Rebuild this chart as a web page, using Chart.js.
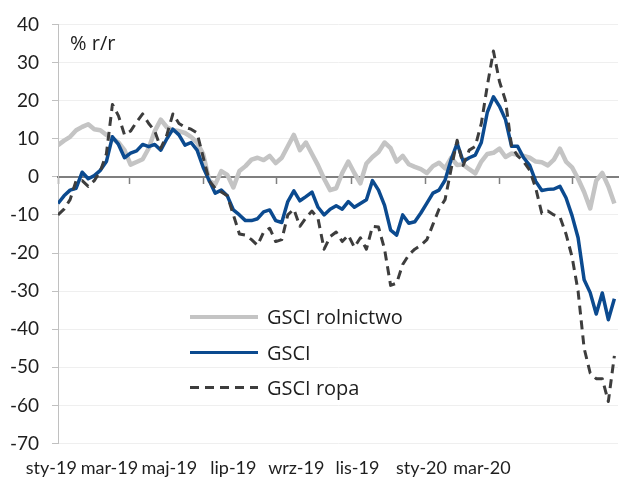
<!DOCTYPE html>
<html lang="pl">
<head>
<meta charset="utf-8">
<title>GSCI % r/r</title>
<script src="https://cdn.jsdelivr.net/npm/chart.js@4.4.1/dist/chart.umd.min.js"></script>
<style>
  body { margin: 0; background: #fff; }
  #wykres-box { position: relative; width: 621px; height: 484px; }
  #tytul { position: absolute; left: 70px; top: 29px; font: 20px 'Open Sans', sans-serif; color: #1e1e1e; }
  #legenda { position: absolute; left: 190px; top: 299px; font: 20px 'Open Sans', sans-serif; color: #1e1e1e; }
  .poz { display: flex; align-items: center; height: 35.5px; }
  .kreska { display: inline-block; width: 68px; margin-right: 9px; }
</style>
</head>
<body>
<div id="wykres-box">
  <canvas id="wykres"></canvas>
  <div id="tytul">% r/r</div>
  <div id="legenda"></div>
</div>
<script>
// odczyty co 5 dni, od 1 stycznia 2019
var krokDni = 5;

var rolnictwo = [
    8.3, 9.5, 10.5, 12.2, 13.1, 13.8, 12.5, 12.2, 11, 10,
    9, 7, 3.2, 3.9, 4.6, 7.5, 12, 15, 13, 12.2,
    12, 11.5, 10.5, 9, 6, -1, -2, 1.5, 0.5, -2.8,
    1.5, 2.8, 4.5, 5, 4.4, 5.5, 3.6, 5, 8, 11,
    7, 9, 6, 3, -0.5, -3.5, -3, 1, 4, 1,
    -1.7, 3.5, 5.2, 6.5, 9, 7.5, 4, 5.5, 3.3, 2.6,
    2, 1, 2.8, 3.7, 2.2, 5, 3.1, 3.2, 2, 0.9,
    4, 6, 6.3, 7.4, 5.2, 6.1, 5.8, 5.5, 5, 4,
    3.8, 3, 4.5, 7.4, 4, 2.5, -0.5, -4, -8.3, -1,
    1, -2.5, -7
];

var gsci = [
    -7, -5, -3.5, -3, 1.2, -0.5, 0.3, 1.7, 4, 10.5,
    8.5, 5, 6.2, 6.8, 8.5, 7.9, 8.5, 7, 10, 12.5,
    11, 8.3, 9, 7, 2.5, -1, -4.3, -3.5, -5, -8.7,
    -10, -11.5, -11.5, -11, -9.2, -8.7, -11.5, -12, -6.5, -3.7,
    -6.3, -5.2, -4, -8, -10, -8.5, -7.6, -8.5, -6.5, -8,
    -7, -6, -1, -3.5, -7.5, -14, -15.3, -10, -12.2, -11.8,
    -9.5, -6.9, -4.3, -3.5, -0.9, 4.5, 8.8, 4, 5, 5.7,
    9, 17, 21, 18.5, 15, 8, 8, 5, 3, -1.2,
    -3.6, -3.3, -3.2, -2.5, -5.5, -10.2, -16, -27, -30.4, -36,
    -30.5, -37.5, -32
];

var ropa = [
    -10, -8.5, -6, -1, -1, -2.5, -1, 1.5, 6, 19,
    16, 11, 12, 14.4, 16.5, 14, 12, 7.5, 11, 16.5,
    14, 13, 12.5, 11.5, 5.2, -1, -3, -4, -5, -10,
    -15, -15.3, -16.5, -18, -14.5, -13.5, -17, -16.5, -10, -8.5,
    -13, -10.8, -9, -11, -19, -15.7, -14.5, -17, -15.3, -18.5,
    -16, -19, -13, -13.2, -19, -28.5, -27.9, -23, -20.5, -19,
    -18, -16.5, -12.5, -8.5, -6, 2, 9.6, 3, 7, 8,
    14, 24, 33, 25, 20, 8, 5.5, 4, 1.7, -3,
    -9.6, -9, -10, -10.5, -15, -21, -30, -45, -51.5, -53,
    -53, -59, -47
];

var dni = gsci.map(function (v, i) { return i * krokDni; });

var miesiace = ['sty-19', 'mar-19', 'maj-19', 'lip-19', 'wrz-19', 'lis-19', 'sty-20', 'mar-20'];
var poczatkiMiesiecy = [0, 59, 120, 181, 243, 304, 365, 425];

Chart.defaults.font.family = "Lato, 'Open Sans', sans-serif";
Chart.defaults.color = '#1e1e1e';

// gdzie stoja podpisy osi x (w dniach)
var pozycjePodpisow = [-5.5, 42.5, 92, 145, 197, 247.5, 300.5, 350.5];

var ctx = document.getElementById('wykres').getContext('2d');
var wykres = new Chart(ctx, {
    type: 'line',
    data: {
        labels: dni,
        datasets: [{
            label: 'GSCI rolnictwo',
            data: rolnictwo,
            borderColor: '#c4c4c4',
            borderWidth: 4.5,
            order: 3
        }, {
            label: 'GSCI',
            data: gsci,
            borderColor: '#0b4a8f',
            borderWidth: 3.5,
            order: 2
        }, {
            label: 'GSCI ropa',
            data: ropa,
            borderColor: '#3d3d3d',
            borderWidth: 3,
            borderDash: [9, 6],
            order: 1
        }]
    },
    options: {
        responsive: true,
        maintainAspectRatio: false,
        animation: false,
        layout: { padding: { top: 24, right: 3, left: 0, bottom: 0 } },
        elements: {
            point: { radius: 0 },
            line: { tension: 0, borderJoinStyle: 'round' }
        },
        plugins: {
            legend: { display: false },
            tooltip: { enabled: false }
        },
        scales: {
            x: {
                type: 'linear',
                position: { y: 0 },
                min: 0,
                max: 463,
                afterBuildTicks: function (s) {
                    s.ticks = poczatkiMiesiecy.map(function (v) { return { value: v }; });
                },
                afterFit: function (s) { s.height = 0; },
                ticks: { display: false },
                grid: { drawOnChartArea: false, tickLength: 6, tickColor: '#7f7f7f', tickWidth: 1.5 },
                border: { color: '#7f7f7f', width: 2 }
            },
            x2: {
                type: 'linear',
                position: 'bottom',
                min: 0,
                max: 463,
                afterBuildTicks: function (s) {
                    s.ticks = pozycjePodpisow.map(function (v) { return { value: v }; });
                },
                afterFit: function (s) { s.height = 40.5; },
                ticks: {
                    autoSkip: false,
                    maxRotation: 0,
                    padding: 14,
                    font: { size: 18 },
                    callback: function (v, i) { return miesiace[i]; }
                },
                grid: { display: false, drawTicks: false },
                border: { display: false }
            },
            y: {
                min: -70,
                max: 40,
                afterFit: function (s) { s.width = 58; },
                ticks: { stepSize: 10, padding: 13, font: { size: 19 } },
                grid: { color: '#efefef', tickColor: '#c0c0c0', tickLength: 6 },
                border: { color: '#c0c0c0', width: 1 }
            }
        }
    }
});

// legenda w srodku wykresu
var legenda = document.getElementById('legenda');
wykres.data.datasets.forEach(function (ds) {
    var poz = document.createElement('div');
    poz.className = 'poz';
    var kreska = document.createElement('span');
    kreska.className = 'kreska';
    kreska.style.height = ds.borderWidth + 'px';
    if (ds.borderDash) {
        var a = ds.borderDash[0], b = ds.borderDash[0] + ds.borderDash[1];
        kreska.style.background = 'repeating-linear-gradient(to right, ' + ds.borderColor + ' 0 ' + a + 'px, transparent ' + a + 'px ' + b + 'px)';
    } else {
        kreska.style.background = ds.borderColor;
    }
    var tekst = document.createElement('span');
    tekst.textContent = ds.label;
    poz.appendChild(kreska);
    poz.appendChild(tekst);
    legenda.appendChild(poz);
});
</script>
</body>
</html>
